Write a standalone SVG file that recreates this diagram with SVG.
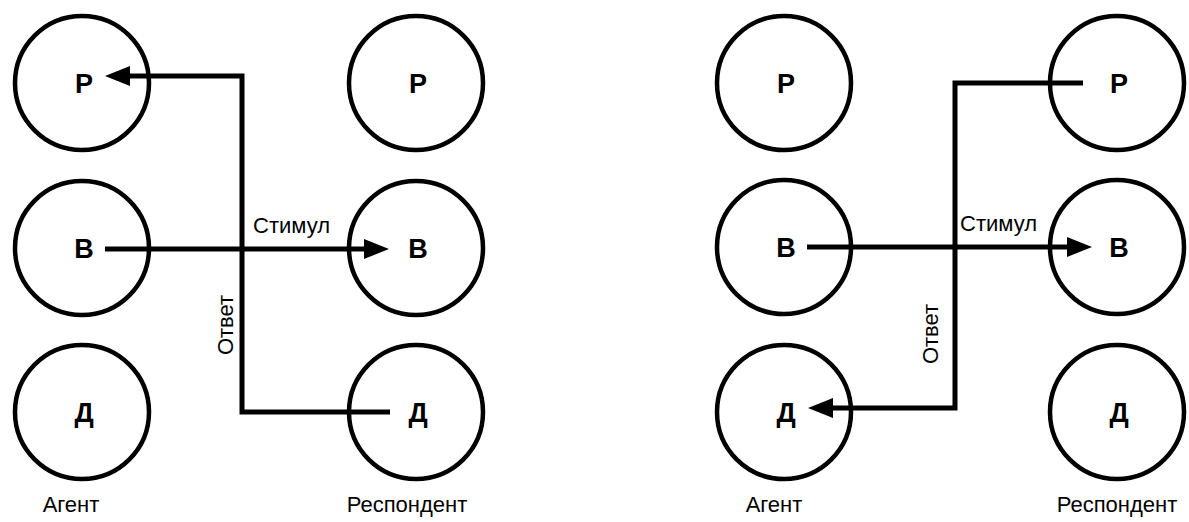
<svg xmlns="http://www.w3.org/2000/svg" width="1189" height="522" viewBox="0 0 1189 522">
<style>
.c{fill:none;stroke:#000;stroke-width:4.5}
.n{font-family:"Liberation Sans",Arial,sans-serif;font-weight:bold;font-size:27px;text-anchor:middle}
.l{font-family:"Liberation Sans",Arial,sans-serif;font-size:22px}
.w{fill:none;stroke:#000;stroke-width:5}
</style>
<defs>
<marker id="ah" markerUnits="userSpaceOnUse" markerWidth="28" markerHeight="22" refX="8" refY="10" orient="auto">
<path d="M0,0 L25,10 L0,20 Z" fill="#000"/>
</marker>
</defs>
<rect width="1189" height="522" fill="#fff"/>
<g id="left-agent-P"><circle class="c" cx="82" cy="83" r="67"/><text class="n" x="84" y="93">Р</text></g>
<g id="left-agent-B"><circle class="c" cx="82" cy="248" r="67"/><text class="n" x="84" y="258">В</text></g>
<g id="left-agent-D"><circle class="c" cx="82" cy="412" r="67"/><text class="n" x="84" y="422">Д</text></g>
<g id="left-resp-P"><circle class="c" cx="416" cy="83" r="67"/><text class="n" x="418" y="93">Р</text></g>
<g id="left-resp-B"><circle class="c" cx="416" cy="248" r="67"/><text class="n" x="418" y="258">В</text></g>
<g id="left-resp-D"><circle class="c" cx="416" cy="412" r="67"/><text class="n" x="418" y="422">Д</text></g>
<g id="right-agent-P"><circle class="c" cx="784" cy="83" r="67"/><text class="n" x="786" y="93">Р</text></g>
<g id="right-agent-B"><circle class="c" cx="784" cy="247" r="67"/><text class="n" x="786" y="257">В</text></g>
<g id="right-agent-D"><circle class="c" cx="784" cy="412" r="67"/><text class="n" x="786" y="422">Д</text></g>
<g id="right-resp-P"><circle class="c" cx="1117" cy="83" r="67"/><text class="n" x="1119" y="93">Р</text></g>
<g id="right-resp-B"><circle class="c" cx="1117" cy="247" r="67"/><text class="n" x="1119" y="257">В</text></g>
<g id="right-resp-D"><circle class="c" cx="1117" cy="412" r="67"/><text class="n" x="1119" y="422">Д</text></g>
<g id="connectors">
<path class="w" d="M105,249 H372" marker-end="url(#ah)"/>
<path class="w" d="M390,412 H242 V76 H122" marker-end="url(#ah)"/>
<path class="w" d="M807,247 H1075" marker-end="url(#ah)"/>
<path class="w" d="M1083,83 H955 V408 H825" marker-end="url(#ah)"/>
</g>
<g id="labels">
<text class="l" x="253" y="233" font-size="23">Стимул</text>
<text class="l" x="0" y="0" text-anchor="middle" transform="translate(233,325) rotate(-90)">Ответ</text>
<text class="l" x="960" y="231" font-size="23">Стимул</text>
<text class="l" x="0" y="0" text-anchor="middle" transform="translate(938,334) rotate(-90)">Ответ</text>
<text class="l" x="71" y="512" text-anchor="middle">Агент</text>
<text class="l" x="407" y="512" text-anchor="middle">Респондент</text>
<text class="l" x="774" y="512" text-anchor="middle">Агент</text>
<text class="l" x="1117" y="512" text-anchor="middle">Респондент</text>
</g>
</svg>
